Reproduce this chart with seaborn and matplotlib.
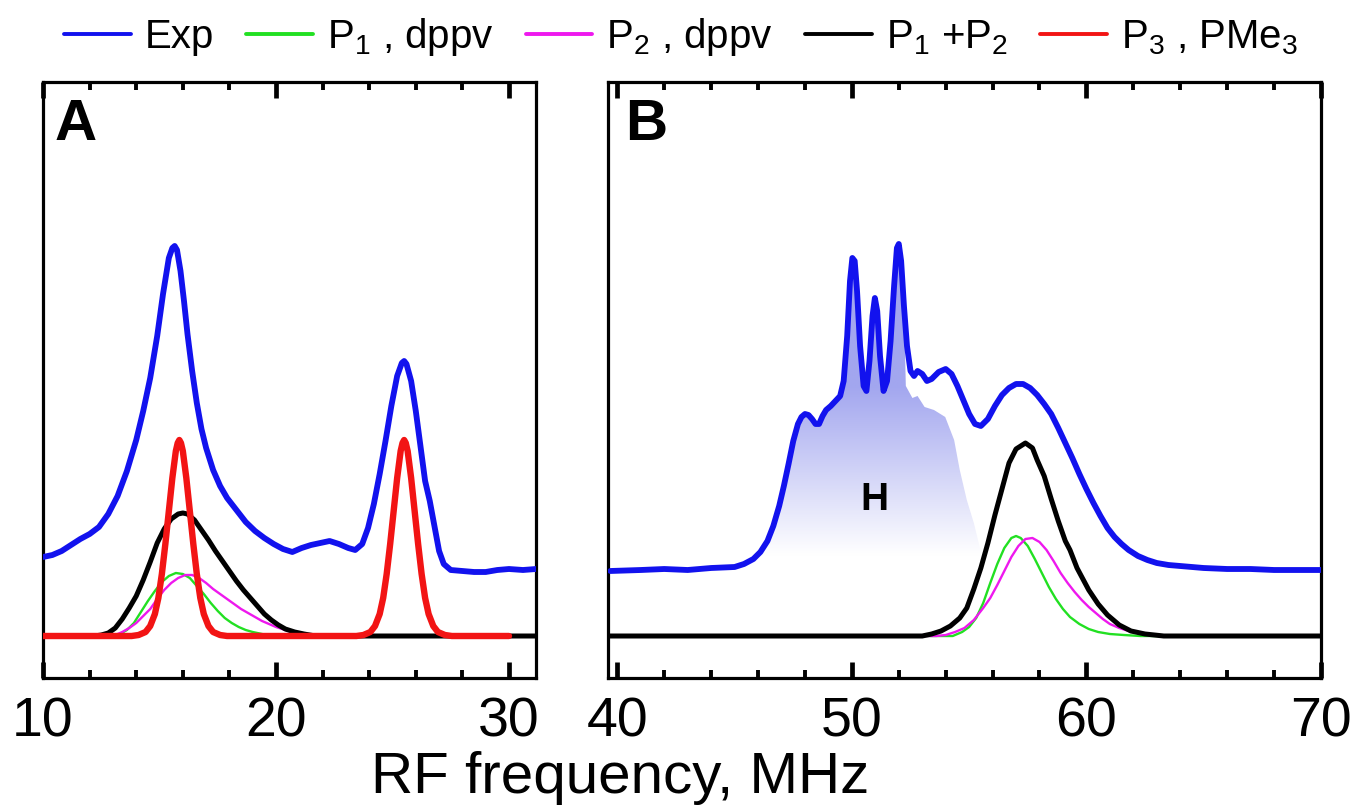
import numpy as np
import matplotlib
matplotlib.use('Agg')
import matplotlib.pyplot as plt
import seaborn as sns
from matplotlib.colors import LinearSegmentedColormap
from matplotlib.lines import Line2D
from matplotlib.ticker import MultipleLocator

sns.set_theme(style='white')
plt.rcParams['font.family'] = ['Liberation Sans', 'DejaVu Sans']
plt.rcParams['mathtext.fontset'] = 'custom'
plt.rcParams['mathtext.rm'] = 'Liberation Sans'
plt.rcParams['mathtext.it'] = 'Liberation Sans:italic'
plt.rcParams['mathtext.bf'] = 'Liberation Sans:bold'
plt.rcParams['text.color'] = 'black'
plt.rcParams['xtick.color'] = 'black'
plt.rcParams['axes.edgecolor'] = 'black'

# --- panel A data ---
a_exp_x = [10.0, 10.4, 10.8, 11.2, 11.6, 12.0, 12.4, 12.8, 13.2, 13.6, 14.0, 14.3, 14.6, 14.9,
           15.15, 15.4, 15.55, 15.65, 15.75, 15.9, 16.05, 16.2, 16.4, 16.6, 16.8, 17.0, 17.3,
           17.6, 17.9, 18.3, 18.7, 19.1, 19.5, 19.9, 20.3, 20.7, 21.1, 21.5, 21.9, 22.3, 22.7,
           23.1, 23.4, 23.7, 23.95, 24.2, 24.45, 24.7, 24.95, 25.2, 25.4, 25.5, 25.6, 25.8,
           26.0, 26.2, 26.4, 26.6, 26.8, 27.0, 27.2, 27.5, 28.0, 28.5, 29.0, 29.5, 30.0, 30.6,
           31.16]
a_exp_y = [0.79, 0.81, 0.85, 0.91, 0.97, 1.02, 1.09, 1.22, 1.40, 1.65, 1.96, 2.25, 2.58, 3.00,
           3.42, 3.78, 3.88, 3.90, 3.86, 3.65, 3.35, 3.02, 2.65, 2.33, 2.07, 1.88, 1.66,
           1.50, 1.38, 1.26, 1.14, 1.05, 0.98, 0.92, 0.87, 0.84, 0.88, 0.91, 0.93, 0.95, 0.92,
           0.88, 0.86, 0.92, 1.08, 1.32, 1.62, 1.95, 2.30, 2.60, 2.73, 2.75, 2.72, 2.55,
           2.25, 1.90, 1.55, 1.35, 1.10, 0.85, 0.72, 0.66, 0.65, 0.64, 0.64, 0.66, 0.67, 0.66,
           0.67]

a_p1_x = [10.0, 13.0, 13.3, 13.6, 13.9, 14.2, 14.5, 14.8, 15.1, 15.4, 15.7, 16.0, 16.3, 16.6,
          16.9, 17.2, 17.5, 17.8, 18.1, 18.4, 18.7, 19.0, 19.4, 19.8, 31.16]
a_p1_y = [0.0, 0.0, 0.02, 0.06, 0.13, 0.24, 0.35, 0.45, 0.54, 0.60, 0.63, 0.62, 0.58, 0.50,
          0.42, 0.33, 0.25, 0.18, 0.13, 0.09, 0.06, 0.04, 0.02, 0.0, 0.0]

a_p2_x = [10.0, 12.8, 13.1, 13.4, 13.7, 14.0, 14.3, 14.6, 14.9, 15.2, 15.5, 15.8, 16.1, 16.4,
          16.7, 17.0, 17.3, 17.6, 17.9, 18.2, 18.5, 18.8, 19.1, 19.4, 19.7, 20.0, 20.4, 20.8,
          21.2, 21.6, 31.16]
a_p2_y = [0.0, 0.0, 0.01, 0.04, 0.08, 0.13, 0.20, 0.27, 0.37, 0.46, 0.53, 0.58, 0.61, 0.61,
          0.58, 0.53, 0.47, 0.42, 0.37, 0.32, 0.27, 0.23, 0.19, 0.15, 0.12, 0.09, 0.06, 0.03,
          0.01, 0.0, 0.0]

a_sum_x = [10.0, 12.2, 12.5, 12.8, 13.1, 13.4, 13.7, 14.0, 14.3, 14.6, 14.9, 15.2, 15.5, 15.8,
           16.0, 16.2, 16.5, 16.8, 17.1, 17.4, 17.7, 18.0, 18.3, 18.6, 18.9, 19.2, 19.5, 19.8,
           20.1, 20.4, 20.8, 21.2, 21.7, 31.16]
a_sum_y = [0.0, 0.0, 0.01, 0.03, 0.08, 0.17, 0.28, 0.40, 0.56, 0.74, 0.93, 1.07, 1.17, 1.22,
           1.23, 1.22, 1.16, 1.06, 0.96, 0.85, 0.75, 0.65, 0.55, 0.46, 0.38, 0.30, 0.22, 0.16,
           0.11, 0.07, 0.04, 0.02, 0.0, 0.0]

a_p3_x = [10.0, 13.8, 14.1, 14.4, 14.6, 14.8, 14.95, 15.1, 15.25, 15.4, 15.55, 15.7, 15.78,
          15.85, 15.92, 16.0, 16.15, 16.3, 16.45, 16.6, 16.75, 16.9, 17.1, 17.3, 17.6, 17.9,
          23.45, 23.75, 24.05, 24.25, 24.45, 24.6, 24.75, 24.9, 25.05, 25.2, 25.35, 25.43,
          25.5, 25.57, 25.65, 25.8, 25.95, 26.1, 26.25, 26.4, 26.55, 26.75, 26.95, 27.25,
          27.55, 30.0]
a_p3_y = [0.0, 0.0, 0.01, 0.04, 0.10, 0.22, 0.38, 0.62, 0.92, 1.25, 1.58, 1.85, 1.93,
          1.96, 1.93, 1.85, 1.58, 1.25, 0.92, 0.62, 0.38, 0.22, 0.10, 0.04, 0.01, 0.0,
          0.0, 0.01, 0.04, 0.10, 0.22, 0.38, 0.62, 0.92, 1.25, 1.58, 1.85, 1.93,
          1.96, 1.93, 1.85, 1.58, 1.25, 0.92, 0.62, 0.38, 0.22, 0.10, 0.04, 0.01,
          0.0, 0.0]

# --- panel B data ---
b_exp_x = [39.7, 41.0, 42.0, 43.0, 44.0, 45.0, 45.4, 45.8, 46.1, 46.4, 46.65, 46.9, 47.1, 47.3,
           47.5, 47.7, 47.85, 48.0, 48.15, 48.3, 48.45, 48.6, 48.75, 48.9, 49.1, 49.3, 49.5,
           49.65, 49.8, 49.92, 50.02, 50.12, 50.22, 50.35, 50.5, 50.62, 50.75, 50.88, 50.98,
           51.08, 51.2, 51.35, 51.5, 51.65, 51.8, 51.92, 52.0, 52.1, 52.22, 52.35, 52.5, 52.65,
           52.8, 53.0, 53.2, 53.4, 53.7, 54.0, 54.25, 54.5, 54.75, 55.0, 55.25, 55.5, 55.8,
           56.1, 56.4, 56.7, 57.0, 57.3, 57.6, 57.9, 58.2, 58.5, 58.8, 59.1, 59.4, 59.7, 60.0,
           60.3, 60.6, 60.9, 61.2, 61.5, 61.8, 62.2, 62.6, 63.0, 63.5, 64.0, 65.0, 66.0, 67.0,
           68.0, 69.0, 70.0]
b_exp_y = [0.65, 0.66, 0.67, 0.66, 0.68, 0.69, 0.72, 0.77, 0.84, 0.95, 1.10, 1.30, 1.50, 1.72,
           1.95, 2.12, 2.19, 2.22, 2.21, 2.17, 2.12, 2.12, 2.20, 2.26, 2.30, 2.35, 2.40,
           2.55, 3.00, 3.55, 3.78, 3.75, 3.45, 2.90, 2.50, 2.45, 2.75, 3.20, 3.38,
           3.25, 2.80, 2.45, 2.55, 2.95, 3.50, 3.88, 3.92, 3.75, 3.30, 2.90, 2.65, 2.60,
           2.65, 2.62, 2.55, 2.57, 2.64, 2.67, 2.62, 2.50, 2.36, 2.22, 2.12, 2.10, 2.17,
           2.30, 2.41, 2.48, 2.52, 2.52, 2.48, 2.41, 2.32, 2.22, 2.08, 1.93, 1.78, 1.62, 1.47,
           1.33, 1.20, 1.08, 0.99, 0.92, 0.86, 0.80, 0.76, 0.73, 0.71, 0.70, 0.68, 0.67, 0.67,
           0.66, 0.66, 0.66]

b_p1_x = [39.6, 54.3, 54.7, 55.0, 55.3, 55.6, 55.9, 56.2, 56.5, 56.8, 57.0, 57.2, 57.5, 57.8,
          58.1, 58.4, 58.7, 59.0, 59.3, 59.7, 60.1, 60.5, 61.0, 61.6, 62.3, 70.0]
b_p1_y = [0.0, 0.0, 0.04, 0.09, 0.18, 0.33, 0.53, 0.72, 0.88, 0.98, 1.0, 0.98, 0.90, 0.77,
          0.63, 0.49, 0.37, 0.27, 0.19, 0.12, 0.07, 0.04, 0.02, 0.01, 0.0, 0.0]

b_p2_x = [39.6, 53.6, 54.0, 54.4, 54.8, 55.2, 55.6, 55.9, 56.2, 56.5, 56.8, 57.1, 57.4, 57.7,
          58.0, 58.3, 58.6, 58.9, 59.2, 59.5, 59.8, 60.1, 60.4, 60.7, 61.0, 61.4, 61.8, 62.3,
          62.8, 63.3, 70.0]
b_p2_y = [0.0, 0.0, 0.01, 0.04, 0.08, 0.16, 0.28, 0.38, 0.51, 0.65, 0.79, 0.90, 0.97, 0.98,
          0.94, 0.86, 0.75, 0.63, 0.53, 0.44, 0.36, 0.29, 0.23, 0.17, 0.12, 0.08, 0.05, 0.03,
          0.01, 0.0, 0.0]

b_sum_x = [39.6, 53.0, 53.4, 53.8, 54.2, 54.6, 54.9, 55.2, 55.5, 55.8, 56.1, 56.4, 56.7, 57.0,
           57.4, 57.7, 57.9, 58.2, 58.5, 58.8, 59.1, 59.3, 59.6, 60.1, 60.5, 60.9, 61.4, 61.9,
           62.5, 63.3, 70.0]
b_sum_y = [0.0, 0.0, 0.02, 0.05, 0.10, 0.18, 0.28, 0.47, 0.68, 0.93, 1.21, 1.47, 1.73, 1.87,
           1.93, 1.88, 1.76, 1.60, 1.37, 1.15, 0.95, 0.86, 0.68, 0.46, 0.32, 0.21, 0.11, 0.05,
           0.02, 0.0, 0.0]

# outline of the shaded H region
h_x = [46.1, 46.4, 46.65, 46.9, 47.1, 47.3, 47.5, 47.7, 47.85, 48.0, 48.15, 48.3, 48.45, 48.6,
       48.75, 48.9, 49.1, 49.3, 49.5, 49.65, 49.8, 49.92, 50.02, 50.12, 50.22, 50.35, 50.5,
       50.62, 50.75, 50.88, 50.98, 51.08, 51.2, 51.35, 51.5, 51.65, 51.8, 51.92, 52.0, 52.1,
       52.22, 52.3, 52.58, 52.8, 53.1, 53.5, 53.98, 54.36, 54.6, 54.9, 55.2, 55.45, 55.6, 46.1]
h_y = [0.80, 0.95, 1.10, 1.30, 1.50, 1.72, 1.95, 2.12, 2.19, 2.22, 2.21, 2.17, 2.12, 2.12,
       2.20, 2.26, 2.30, 2.35, 2.40, 2.55, 3.00, 3.55, 3.78, 3.75, 3.45, 2.90, 2.50,
       2.45, 2.75, 3.20, 3.38, 3.25, 2.80, 2.45, 2.55, 2.95, 3.50, 3.88, 3.92, 3.75,
       3.30, 2.50, 2.38, 2.40, 2.29, 2.26, 2.19, 1.96, 1.66, 1.36, 1.13, 0.89, 0.70, 0.70]

legend_labels = ['Exp', 'P$_1$ , dppv', 'P$_2$ , dppv', 'P$_1$ +P$_2$', 'P$_3$ , PMe$_3$']
C_EXP, C_P1, C_P2, C_SUM, C_P3 = '#1212ee', '#22e022', '#ee18ee', '#000000', '#f21414'

fig = plt.figure(figsize=(13.58, 8.06), dpi=100)
ax_a = fig.add_axes([0.0317, 0.1588, 0.3630, 0.7395])
ax_b = fig.add_axes([0.4477, 0.1588, 0.5250, 0.7395])

def line(ax, x, y, color, lw, z):
    sns.lineplot(x=x, y=y, ax=ax, color=color, linewidth=lw, sort=False,
                 estimator=None, legend=False, zorder=z, solid_joinstyle='round')

# panel A
line(ax_a, a_exp_x, a_exp_y, C_EXP, 4.2, 3)
line(ax_a, a_p1_x, a_p1_y, C_P1, 1.7, 4)
line(ax_a, a_p2_x, a_p2_y, C_P2, 1.7, 4)
line(ax_a, a_sum_x, a_sum_y, C_SUM, 3.6, 5)
line(ax_a, a_p3_x, a_p3_y, C_P3, 4.6, 6)

# panel B: gradient shading of H
poly, = ax_b.fill(h_x, h_y, facecolor='none', edgecolor='none')
grad = np.clip((np.linspace(0.7, 4.0, 300) - 0.8) / 1.7, 0, 1).reshape(-1, 1)
cmap = LinearSegmentedColormap.from_list('hfade', ['#ffffff', '#a2a6ef'])
im = ax_b.imshow(grad, extent=[45.5, 56.0, 0.7, 4.0], origin='lower', aspect='auto',
                 cmap=cmap, vmin=0, vmax=1, zorder=1, interpolation='bilinear')
im.set_clip_path(poly)

line(ax_b, b_exp_x, b_exp_y, C_EXP, 4.2, 3)
line(ax_b, b_p1_x, b_p1_y, C_P1, 1.7, 4)
line(ax_b, b_p2_x, b_p2_y, C_P2, 1.7, 4)
line(ax_b, b_sum_x, b_sum_y, C_SUM, 3.6, 5)
ax_b.text(50.98, 1.26, 'H', fontsize=28, fontweight='bold', ha='center', va='baseline')

for ax, lim, majors, letter in [(ax_a, (10, 31.16), [10, 20, 30], 'A'),
                                (ax_b, (39.6, 70.0), [40, 50, 60, 70], 'B')]:
    ax.set_xlim(*lim)
    ax.set_ylim(-0.42, 5.54)
    ax.set_xticks(majors)
    ax.xaxis.set_minor_locator(MultipleLocator(2))
    ax.set_yticks([])
    ax.tick_params(axis='x', which='major', direction='in', length=11.5, width=3.4,
                   top=True, bottom=True, labelsize=40, pad=13, color='black')
    ax.tick_params(axis='x', which='minor', direction='in', length=5.8, width=2.8,
                   top=True, bottom=True, color='black')
    for sp in ax.spines.values():
        sp.set_linewidth(2.3)
        sp.set_color('black')
    ax.set_facecolor('white')
    ax.text(0.024, 0.903, letter, transform=ax.transAxes, fontsize=42,
            fontweight='bold', ha='left', va='baseline')

handles = [Line2D([], [], color=c, lw=2.8) for c in [C_EXP, C_P1, C_P2, C_SUM, C_P3]]
fig.legend(handles, legend_labels, loc='center', bbox_to_anchor=(0.5015, 0.954), ncol=5,
           frameon=False, fontsize=29, handlelength=1.65, handletextpad=0.35,
           columnspacing=0.8, borderpad=0, borderaxespad=0)

fig.text(0.4566, 0.016, 'RF frequency, MHz', fontsize=42, ha='center', va='baseline')

fig.savefig('out.png', dpi=100)
